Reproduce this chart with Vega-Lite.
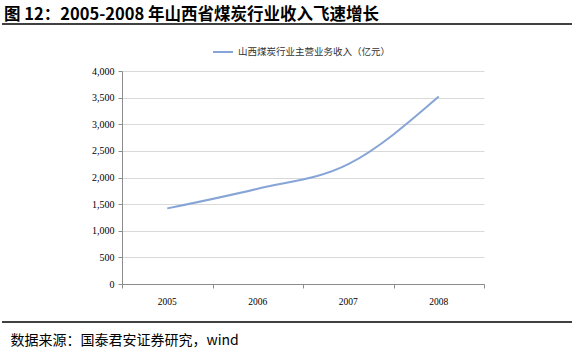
{
  "$schema": "https://vega.github.io/schema/vega-lite/v6.json",
  "width": 362,
  "height": 213,
  "autosize": "none",
  "padding": {"left": 122, "top": 71, "right": 90, "bottom": 69},
  "background": "white",
  "config": {"view": {"stroke": null}},
  "title": {
    "text": "图 12：2005-2008 年山西省煤炭行业收入飞速增长",
    "anchor": "start",
    "frame": "group",
    "dx": -118,
    "offset": 0,
    "font": "Noto Sans CJK SC",
    "fontSize": 16.5,
    "fontWeight": "bold",
    "color": "#000000"
  },
  "layer": [
    {
      "data": {"values": [
        {"year": 2005, "value": 1420, "series": "山西煤炭行业主营业务收入（亿元）"},
        {"year": 2006, "value": 1790, "series": "山西煤炭行业主营业务收入（亿元）"},
        {"year": 2007, "value": 2250, "series": "山西煤炭行业主营业务收入（亿元）"},
        {"year": 2008, "value": 3520, "series": "山西煤炭行业主营业务收入（亿元）"}
      ]},
      "mark": {"type": "line", "interpolate": "monotone", "strokeWidth": 2},
      "encoding": {
        "x": {
          "field": "year", "type": "quantitative",
          "scale": {"domain": [2004.5, 2008.5], "nice": false, "zero": false},
          "axis": {
            "values": [2004.5, 2005.5, 2006.5, 2007.5, 2008.5],
            "labels": false, "grid": false, "title": "数据来源：国泰君安证券研究，wind",
            "domainColor": "#8c8c8c", "tickColor": "#8c8c8c", "tickSize": 4,
            "titleAnchor": "start", "titleX": -112, "titleY": 56,
            "titleFont": "Noto Sans CJK SC", "titleFontSize": 14, "titleFontWeight": "normal",
            "titleColor": "#000000", "titleBaseline": "middle"
          }
        },
        "y": {
          "field": "value", "type": "quantitative",
          "scale": {"domain": [0, 4000], "nice": false},
          "axis": {
            "values": [0, 500, 1000, 1500, 2000, 2500, 3000, 3500, 4000],
            "format": ",.0f", "title": null,
            "labelFont": "Liberation Serif", "labelFontSize": 10, "labelColor": "#000000",
            "domainColor": "#8c8c8c", "tickColor": "#8c8c8c", "tickSize": 4, "labelPadding": 4,
            "gridColor": "#d9d9d9", "gridWidth": 1
          }
        },
        "color": {
          "field": "series", "type": "nominal",
          "scale": {"range": ["#86a5d6"]},
          "legend": {
            "title": null, "orient": "none", "legendX": 90, "legendY": -30,
            "symbolType": "stroke", "symbolSize": 400, "symbolStrokeWidth": 2,
            "labelFont": "Noto Sans CJK SC", "labelFontSize": 9.5, "labelColor": "#333333"
          }
        }
      }
    },
    {
      "data": {"values": [{"year": 2005, "label": "2005"}, {"year": 2006, "label": "2006"}, {"year": 2007, "label": "2007"}, {"year": 2008, "label": "2008"}]},
      "mark": {"type": "text", "font": "Liberation Serif", "fontSize": 9.5, "color": "#000000", "baseline": "middle", "dy": 18},
      "encoding": {
        "x": {"field": "year", "type": "quantitative"},
        "y": {
          "datum": 0, "type": "quantitative",
          "axis": {
            "values": [0, 500, 1000, 1500, 2000, 2500, 3000, 3500, 4000],
            "format": ",.0f", "title": null,
            "labelFont": "Liberation Serif", "labelFontSize": 10, "labelColor": "#000000",
            "domainColor": "#8c8c8c", "tickColor": "#8c8c8c", "tickSize": 4, "labelPadding": 4,
            "gridColor": "#d9d9d9", "gridWidth": 1
          }
        },
        "text": {"field": "label"}
      }
    },
    {
      "data": {"values": [{"pos": "top"}]},
      "mark": {"type": "rule", "color": "#000000", "strokeWidth": 1.5},
      "encoding": {"x": {"value": -120}, "x2": {"value": 450}, "y": {"value": -47}}
    },
    {
      "data": {"values": [{"pos": "bottom"}]},
      "mark": {"type": "rule", "color": "#000000", "strokeWidth": 1.5},
      "encoding": {"x": {"value": -120}, "x2": {"value": 450}, "y": {"value": 251}}
    }
  ]
}
